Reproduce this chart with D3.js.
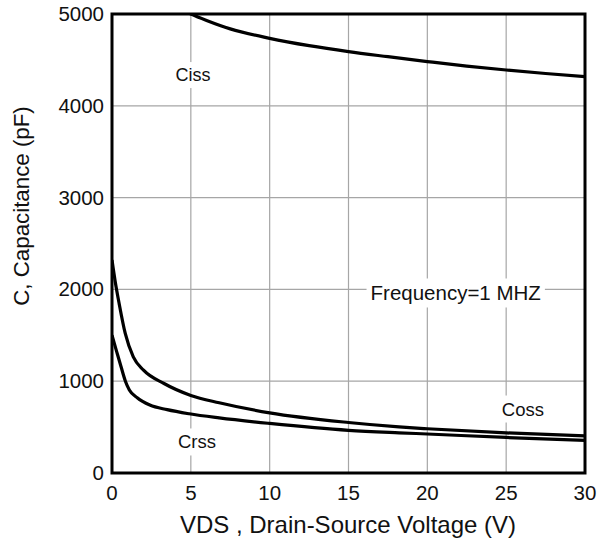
<!DOCTYPE html>
<html>
<head>
<meta charset="utf-8">
<script src="https://cdn.jsdelivr.net/npm/d3@7"></script>
<style>
  body { margin: 0; background: #fff; }
  text { font-family: Arial, "Liberation Sans", sans-serif; }
</style>
</head>
<body>
<svg id="chart" width="599" height="546"></svg>
<script>
// Capacitance vs drain-source voltage
const xTicks = [0, 5, 10, 15, 20, 25, 30]
const yTicks = [0, 1000, 2000, 3000, 4000, 5000]

const cissV = [3, 4, 5, 6, 7.5, 10, 12.5, 15, 17.5, 20, 22.5, 25, 27.5, 30]
const cissC = [5170, 5082, 5000, 4930, 4838, 4735, 4655, 4590, 4535, 4482, 4432, 4390, 4352, 4318]

const cossV = [0, 0.2, 0.46, 0.84, 1.35, 2, 3.3, 5, 6.8, 10, 15, 18.2, 20, 25, 30]
const cossC = [2320, 2090, 1840, 1520, 1265, 1120, 975, 845, 765, 655, 550, 502, 482, 437, 405]

const crssV = [0, 0.3, 0.57, 0.85, 1.1, 1.6, 2.4, 3.5, 4.9, 6.8, 10, 15, 18.2, 20, 25, 30]
const crssC = [1500, 1320, 1160, 1000, 905, 820, 740, 690, 645, 600, 540, 465, 438, 425, 387, 356]

const svg = d3.select('#chart')
const plotLeft = 112, plotRight = 585, plotTop = 14, plotBottom = 473

const x = d3.scaleLinear().domain([0, 30]).range([plotLeft, plotRight])
const y = d3.scaleLinear().domain([0, 5000]).range([plotBottom, plotTop])

svg.append('clipPath').attr('id', 'plotClip')
  .append('rect')
  .attr('x', plotLeft).attr('y', plotTop)
  .attr('width', plotRight - plotLeft).attr('height', plotBottom - plotTop)

// grid
const grid = svg.append('g')
grid.selectAll('line.v')
  .data(xTicks.slice(1, -1))
  .join('line')
  .attr('class', 'v')
  .attr('x1', d => x(d)).attr('x2', d => x(d))
  .attr('y1', plotTop).attr('y2', plotBottom)
  .attr('stroke', '#a6a6a6').attr('stroke-width', 1.2)
grid.selectAll('line.h')
  .data(yTicks.slice(1, -1))
  .join('line')
  .attr('class', 'h')
  .attr('x1', plotLeft).attr('x2', plotRight)
  .attr('y1', d => y(d)).attr('y2', d => y(d))
  .attr('stroke', '#a6a6a6').attr('stroke-width', 1.2)

// labels with white backing (drawn before curves)
function boxLabel (tx, ty, txt, size) {
  const t = svg.append('text')
    .attr('x', tx).attr('y', ty)
    .attr('text-anchor', 'middle')
    .attr('dominant-baseline', 'central')
    .attr('font-size', size)
    .attr('fill', '#111')
    .text(txt)
  const b = t.node().getBBox()
  svg.insert('rect', () => t.node())
    .attr('x', b.x - 4).attr('y', b.y - 3)
    .attr('width', b.width + 8).attr('height', b.height + 6)
    .attr('fill', '#fff')
}
boxLabel(x(5.14), y(4335), 'Ciss', 18)
boxLabel(x(5.39), y(338), 'Crss', 18.5)
boxLabel(x(26.06), y(697), 'Coss', 18.5)
boxLabel(x(21.8), y(1961), 'Frequency=1 MHZ', 20.5)

// curves
const line = d3.line()
  .x(d => x(d[0]))
  .y(d => y(d[1]))
  .curve(d3.curveMonotoneX)

const curves = svg.append('g').attr('clip-path', 'url(#plotClip)')
;[[cissV, cissC], [cossV, cossC], [crssV, crssC]].forEach(s => {
  curves.append('path')
    .datum(d3.zip(s[0], s[1]))
    .attr('d', line)
    .attr('fill', 'none')
    .attr('stroke', '#000')
    .attr('stroke-width', 3.2)
})

// frame
svg.append('rect')
  .attr('x', plotLeft).attr('y', plotTop)
  .attr('width', plotRight - plotLeft).attr('height', plotBottom - plotTop)
  .attr('fill', 'none')
  .attr('stroke', '#000')
  .attr('stroke-width', 3)

// tick labels
svg.append('g').selectAll('text')
  .data(xTicks)
  .join('text')
  .attr('x', d => x(d)).attr('y', plotBottom + 27)
  .attr('text-anchor', 'middle')
  .attr('font-size', 20.5)
  .attr('fill', '#111')
  .text(d => d)

svg.append('g').selectAll('text')
  .data(yTicks)
  .join('text')
  .attr('x', plotLeft - 8).attr('y', d => y(d) + 7)
  .attr('text-anchor', 'end')
  .attr('font-size', 20.5)
  .attr('fill', '#111')
  .text(d => d)

// axis titles
svg.append('text')
  .attr('x', 348).attr('y', 533)
  .attr('text-anchor', 'middle')
  .attr('font-size', 24)
  .attr('fill', '#111')
  .text('VDS , Drain-Source Voltage (V)')

svg.append('text')
  .attr('transform', 'translate(29,' + 206 + ') rotate(-90)')
  .attr('text-anchor', 'middle')
  .attr('font-size', 22.3)
  .attr('fill', '#111')
  .text('C, Capacitance (pF)')
</script>
</body>
</html>
